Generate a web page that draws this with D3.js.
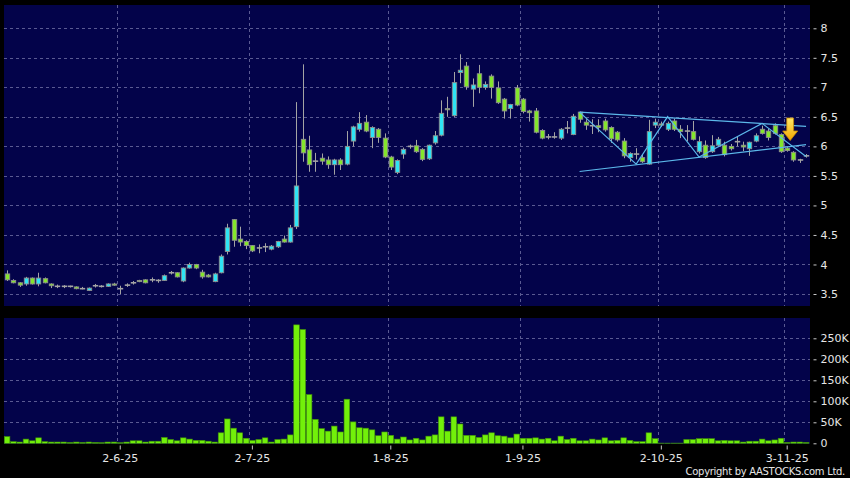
<!DOCTYPE html>
<html>
<head>
<meta charset="utf-8">
<script src="https://cdn.jsdelivr.net/npm/d3@7"></script>
<style>
  body { margin: 0; background: #000; }
  svg { display: block; }
</style>
</head>
<body>
<div id="wrapper"></div>
<script>
/* global d3 */

// trading days shown on the chart
const dates = [
  "2025-05-07","2025-05-08","2025-05-09","2025-05-12","2025-05-13","2025-05-14","2025-05-15","2025-05-16",
  "2025-05-19","2025-05-20","2025-05-21","2025-05-22","2025-05-23","2025-05-26","2025-05-27","2025-05-28",
  "2025-05-29","2025-05-30",
  "2025-06-02","2025-06-03","2025-06-04","2025-06-05","2025-06-06","2025-06-09","2025-06-10","2025-06-11",
  "2025-06-12","2025-06-13","2025-06-16","2025-06-17","2025-06-18","2025-06-19","2025-06-20","2025-06-23",
  "2025-06-24","2025-06-25","2025-06-26","2025-06-27","2025-06-30",
  "2025-07-02","2025-07-03","2025-07-04","2025-07-07","2025-07-08","2025-07-09","2025-07-10","2025-07-11",
  "2025-07-14","2025-07-15","2025-07-16","2025-07-17","2025-07-18","2025-07-21","2025-07-22","2025-07-23",
  "2025-07-24","2025-07-25","2025-07-28","2025-07-29","2025-07-30","2025-07-31",
  "2025-08-01","2025-08-04","2025-08-05","2025-08-06","2025-08-07","2025-08-08","2025-08-11","2025-08-12",
  "2025-08-13","2025-08-14","2025-08-15","2025-08-18","2025-08-19","2025-08-20","2025-08-21","2025-08-22",
  "2025-08-25","2025-08-26","2025-08-27","2025-08-28","2025-08-29",
  "2025-09-01","2025-09-02","2025-09-03","2025-09-04","2025-09-05","2025-09-08","2025-09-09","2025-09-10",
  "2025-09-11","2025-09-12","2025-09-15","2025-09-16","2025-09-17","2025-09-18","2025-09-19","2025-09-22",
  "2025-09-23","2025-09-24","2025-09-25","2025-09-26","2025-09-29","2025-09-30",
  "2025-10-02","2025-10-03","2025-10-06","2025-10-08","2025-10-09","2025-10-10","2025-10-13","2025-10-14",
  "2025-10-15","2025-10-16","2025-10-17","2025-10-20","2025-10-21","2025-10-22","2025-10-23","2025-10-24",
  "2025-10-27","2025-10-28","2025-10-30","2025-10-31",
  "2025-11-03","2025-11-04","2025-11-05","2025-11-06"
];

const opens = [
  3.84,3.73,3.69,3.67,3.77,3.67,3.76,3.67,3.63,3.63,3.63,3.62,3.59,3.56,3.64,3.63,3.63,3.67,
  3.59,3.65,3.69,3.73,3.74,3.74,3.73,3.73,3.86,3.86,3.72,3.94,4.00,3.87,3.82,3.71,3.86,4.22,4.76,4.43,4.39,
  4.32,4.28,4.30,4.26,4.30,4.43,4.38,4.64,6.12,5.94,5.75,5.80,5.77,5.69,5.77,5.70,6.09,6.29,6.41,6.15,6.29,6.14,
  5.82,5.56,5.87,6.00,6.01,5.95,5.79,6.06,6.19,6.64,6.52,7.25,7.36,6.97,7.23,7.00,7.19,6.99,6.80,6.64,6.99,
  6.80,6.60,6.60,6.27,6.16,6.16,6.14,6.31,6.20,6.58,6.41,6.35,6.35,6.43,6.32,6.24,6.09,5.81,5.87,5.81,5.70,6.36,
  6.38,6.29,6.43,6.29,6.26,6.25,5.91,6.02,5.91,6.02,6.02,6.00,6.08,6.02,5.96,6.09,6.29,6.26,6.35,6.20,
  5.97,5.90,5.77,5.84
];
const highs = [
  3.90,3.75,3.70,3.79,3.78,3.86,3.78,3.68,3.66,3.65,3.64,3.63,3.62,3.61,3.67,3.65,3.68,3.69,
  3.64,3.68,3.72,3.74,3.75,3.78,3.75,3.83,3.89,3.87,3.95,4.03,4.01,3.91,3.84,3.86,4.17,4.69,4.77,4.64,4.41,
  4.33,4.34,4.36,4.33,4.40,4.49,4.67,6.75,7.39,6.18,5.89,5.88,5.83,5.79,5.80,6.26,6.35,6.58,6.53,6.34,6.31,6.22,
  5.84,5.78,5.98,6.03,6.11,5.97,6.03,6.26,6.78,6.84,7.26,7.56,7.43,7.15,7.38,7.10,7.22,7.10,6.82,6.72,7.04,
  6.82,6.62,6.65,6.29,6.21,6.24,6.31,6.43,6.55,6.59,6.46,6.46,6.46,6.47,6.34,6.26,6.14,5.90,5.97,5.86,6.45,6.47,
  6.42,6.42,6.47,6.36,6.36,6.43,6.17,6.10,6.19,6.16,6.08,6.04,6.17,6.08,6.08,6.22,6.35,6.30,6.39,6.22,
  6.00,5.92,5.79,5.87
];
const lows = [
  3.72,3.68,3.62,3.64,3.66,3.63,3.68,3.60,3.60,3.60,3.61,3.58,3.58,3.55,3.61,3.61,3.62,3.64,
  3.50,3.62,3.66,3.70,3.68,3.70,3.69,3.72,3.83,3.78,3.70,3.93,3.92,3.76,3.78,3.70,3.85,4.17,4.30,4.31,4.26,
  4.21,4.19,4.21,4.24,4.28,4.37,4.37,4.60,5.74,5.57,5.57,5.69,5.62,5.52,5.60,5.68,6.00,6.25,6.24,5.97,6.06,5.80,
  5.60,5.53,5.79,5.96,5.89,5.75,5.77,6.03,6.17,6.50,6.50,7.07,6.96,6.67,6.90,6.96,6.81,6.72,6.47,6.47,6.68,
  6.56,6.42,6.22,6.12,6.12,6.13,6.11,6.22,6.19,6.40,6.28,6.21,6.24,6.25,6.06,6.08,5.80,5.74,5.78,5.72,5.69,6.31,
  6.33,6.26,6.26,6.14,6.09,6.10,5.88,5.79,5.89,6.00,5.83,5.93,6.00,5.92,5.84,6.07,6.20,6.10,6.20,5.89,
  5.91,5.74,5.72,5.81
];
const closes = [
  3.74,3.69,3.65,3.77,3.67,3.77,3.69,3.64,3.63,3.63,3.63,3.59,3.59,3.60,3.64,3.63,3.67,3.65,
  3.59,3.65,3.69,3.72,3.69,3.74,3.73,3.81,3.86,3.79,3.94,4.00,3.94,3.79,3.79,3.84,4.14,4.62,4.41,4.38,4.32,
  4.23,4.28,4.30,4.31,4.39,4.38,4.62,5.33,5.89,5.69,5.75,5.75,5.69,5.77,5.69,6.00,6.33,6.39,6.26,6.32,6.15,5.82,
  5.65,5.76,5.95,6.00,5.91,5.78,6.02,6.18,6.56,6.63,7.08,7.29,7.01,7.04,7.00,7.05,7.00,6.74,6.60,6.71,6.70,
  6.59,6.57,6.24,6.14,6.16,6.16,6.29,6.31,6.51,6.46,6.36,6.35,6.32,6.28,6.13,6.11,5.84,5.88,5.87,5.74,6.25,6.41,
  6.37,6.39,6.29,6.25,6.26,6.12,6.08,5.81,6.01,6.12,5.86,5.96,6.08,5.99,6.07,6.18,6.22,6.15,6.22,5.91,
  5.93,5.77,5.77,5.84
];
// volume, thousands of shares
const volumes = [
  16,4,3,10,6,13,4,3,3,3,2,3,2,3,2,1.5,3,3,
  1.5,3,6,6,3,5,5,14,9,6,13,10,7,7,5,3,25,58,36,25,12,
  7,9,13,3,9,10,20,282,271,116,57,35,29,41,27,105,51,37,36,32,18,27,
  19,10,15,8,12,8,17,20,63,29,63,46,19,19,14,20,25,18,17,13,22,
  12,12,13,10,12,6,17,9,12,6,6,10,8,13,6,7,13,7,4,4,25,11,
  0.5,0.5,0.5,0.5,9,9,11,11,11,6,7,6,6,3,5,5,10,6,8,12,
  2,3,3,2
];

const priceTicks = [3.5, 4, 4.5, 5, 5.5, 6, 6.5, 7, 7.5, 8];
const volumeTicks = [0, 50, 100, 150, 200, 250];
const monthTicks = ["2025-06-02", "2025-07-02", "2025-08-01", "2025-09-01", "2025-10-02", "2025-11-03"];

// hand-drawn lines on the chart: [date, price]
const channelUpper = [["2025-09-12", 6.58], ["2025-11-06", 6.34]];
const channelLower = [["2025-09-12", 5.575], ["2025-11-06", 6.03]];
const zigzag = [
  ["2025-09-12", 6.58], ["2025-09-25", 5.70], ["2025-10-03", 6.505],
  ["2025-10-13", 5.82], ["2025-10-27", 6.39], ["2025-11-06", 5.83]
];
const arrowMark = { date: "2025-11-03", price: 6.10 };

const drawChart = () => {
  const dataset = dates.map((d, i) => ({
    date: d,
    open: opens[i],
    high: highs[i],
    low: lows[i],
    close: closes[i],
    volume: volumes[i],
  }));

  const dimensions = {
    width: 850,
    height: 478,
    left: 4,
    right: 810,
    priceTop: 5,
    priceBottom: 306,
    volumeTop: 318,
    volumeBottom: 444,
  };

  const gridColor = "#5a5a92";
  const textColor = "#e6e6e6";
  const font = "'DejaVu Sans', Verdana, sans-serif";

  const wrapper = d3
    .select("#wrapper")
    .append("svg")
    .attr("width", dimensions.width)
    .attr("height", dimensions.height)
    .style("background", "#000");

  const xScale = d3
    .scaleBand()
    .domain(dates)
    .range([3.85, 809.2])
    .padding(0);
  const xCenter = (d) => xScale(d) + xScale.bandwidth() / 2;

  const yPrice = d3.scaleLinear().domain([3.5, 8]).range([294, 28.3]);
  const yVolume = d3.scaleLinear().domain([0, 250]).range([443.3, 338.3]);

  // panels
  wrapper
    .append("rect")
    .attr("x", dimensions.left)
    .attr("y", dimensions.priceTop)
    .attr("width", dimensions.right - dimensions.left)
    .attr("height", dimensions.priceBottom - dimensions.priceTop)
    .attr("fill", "#03034a");
  wrapper
    .append("rect")
    .attr("x", dimensions.left)
    .attr("y", dimensions.volumeTop)
    .attr("width", dimensions.right - dimensions.left)
    .attr("height", dimensions.volumeBottom - dimensions.volumeTop)
    .attr("fill", "#03034a");

  // grid
  const grid = wrapper
    .append("g")
    .attr("stroke", gridColor)
    .attr("stroke-width", 1)
    .attr("stroke-dasharray", "3,3");

  grid
    .selectAll(".pgrid")
    .data(priceTicks)
    .join("line")
    .attr("x1", dimensions.left)
    .attr("x2", dimensions.right)
    .attr("y1", (d) => Math.round(yPrice(d)) + 0.5)
    .attr("y2", (d) => Math.round(yPrice(d)) + 0.5);

  grid
    .selectAll(".vgrid")
    .data(volumeTicks.filter((d) => d > 0))
    .join("line")
    .attr("x1", dimensions.left)
    .attr("x2", dimensions.right)
    .attr("y1", (d) => Math.round(yVolume(d)) + 0.5)
    .attr("y2", (d) => Math.round(yVolume(d)) + 0.5);

  monthTicks.forEach((d) => {
    const x = Math.round(xScale(d)) + 0.5;
    grid.append("line").attr("x1", x).attr("x2", x)
      .attr("y1", dimensions.priceTop).attr("y2", dimensions.priceBottom);
    grid.append("line").attr("x1", x).attr("x2", x)
      .attr("y1", dimensions.volumeTop).attr("y2", dimensions.volumeBottom);
  });

  // candles
  const candles = wrapper.append("g");
  const upColor = "#2fe4f4";
  const downColor = "#84e62c";

  candles
    .selectAll(".wick")
    .data(dataset)
    .join("line")
    .attr("x1", (d) => Math.round(xCenter(d.date)) + 0.5)
    .attr("x2", (d) => Math.round(xCenter(d.date)) + 0.5)
    .attr("y1", (d) => yPrice(d.high))
    .attr("y2", (d) => yPrice(d.low))
    .attr("stroke", "#a4a4a4")
    .attr("stroke-width", 1);

  candles
    .selectAll(".body")
    .data(dataset.filter((d) => d.open !== d.close))
    .join("rect")
    .attr("x", (d) => Math.round(xCenter(d.date)) - 1.7)
    .attr("width", 4.4)
    .attr("y", (d) => yPrice(Math.max(d.open, d.close)))
    .attr("height", (d) => Math.max(1.2, Math.abs(yPrice(d.open) - yPrice(d.close))))
    .attr("fill", (d) => (d.close > d.open ? upColor : downColor))
    .attr("stroke", "#8e8e8e")
    .attr("stroke-width", 0.9);

  candles
    .selectAll(".doji")
    .data(dataset.filter((d) => d.open === d.close))
    .join("line")
    .attr("x1", (d) => Math.round(xCenter(d.date)) - 2.2)
    .attr("x2", (d) => Math.round(xCenter(d.date)) + 3.2)
    .attr("y1", (d) => yPrice(d.close))
    .attr("y2", (d) => yPrice(d.close))
    .attr("stroke", "#a4a4a4")
    .attr("stroke-width", 1.6);

  // volume bars
  wrapper
    .append("g")
    .selectAll("rect")
    .data(dataset)
    .join("rect")
    .attr("x", (d) => xCenter(d.date) - 2.7)
    .attr("width", 5.6)
    .attr("y", (d) => yVolume(d.volume))
    .attr("height", (d) => yVolume(0) - yVolume(d.volume))
    .attr("fill", "#72f00a")
    .attr("stroke", "#3f8f08")
    .attr("stroke-width", 0.6);

  // drawn lines
  const lineGenerator = d3
    .line()
    .x((d) => xCenter(d[0]))
    .y((d) => yPrice(d[1]));

  const drawings = wrapper
    .append("g")
    .attr("fill", "none")
    .attr("stroke", "#5cb8ea")
    .attr("stroke-width", 1.2);
  [channelUpper, channelLower, zigzag].forEach((pts) => {
    drawings.append("path").attr("d", lineGenerator(pts));
  });

  // arrow marker
  const defs = wrapper.append("defs");
  const grad = defs
    .append("linearGradient")
    .attr("id", "arrowGrad")
    .attr("x1", 0).attr("y1", 0).attr("x2", 0).attr("y2", 1);
  grad.append("stop").attr("offset", "0%").attr("stop-color", "#ffe866");
  grad.append("stop").attr("offset", "100%").attr("stop-color", "#f2a600");

  const ax = xCenter(arrowMark.date) + 3;
  const ay = yPrice(arrowMark.price);
  wrapper
    .append("path")
    .attr(
      "d",
      `M${ax - 3.4},${ay - 22.5} L${ax + 3.4},${ay - 22.5} L${ax + 3.4},${ay - 9.5}` +
        ` L${ax + 7.5},${ay - 9.5} L${ax},${ay} L${ax - 7.5},${ay - 9.5} L${ax - 3.4},${ay - 9.5} Z`
    )
    .attr("fill", "url(#arrowGrad)")
    .attr("stroke", "#c98a00")
    .attr("stroke-width", 0.8);

  // axes
  const priceAxis = d3
    .axisRight(yPrice)
    .tickValues(priceTicks)
    .tickSize(3)
    .tickPadding(4)
    .tickFormat((d) => d3.format("~g")(d));

  const priceAxisGroup = wrapper
    .append("g")
    .attr("transform", "translate(813.5,0)")
    .call(priceAxis);

  const volumeAxis = d3
    .axisRight(yVolume)
    .tickValues(volumeTicks)
    .tickSize(3)
    .tickPadding(4)
    .tickFormat((d) => (d === 0 ? "0" : d + "K"));

  const volumeAxisGroup = wrapper
    .append("g")
    .attr("transform", "translate(813.5,0)")
    .call(volumeAxis);

  const xAxis = d3
    .axisBottom(xScale)
    .tickValues(monthTicks)
    .tickSize(4)
    .tickPadding(5)
    .tickFormat((d) => d3.timeFormat("%-d-%-m-%y")(d3.timeParse("%Y-%m-%d")(d)));

  const xAxisGroup = wrapper
    .append("g")
    .attr("transform", `translate(0,${dimensions.volumeBottom + 1.5})`)
    .call(xAxis);

  [priceAxisGroup, volumeAxisGroup, xAxisGroup].forEach((g) => {
    g.select(".domain").remove();
    g.selectAll(".tick line").attr("stroke", "#c8c8c8");
    g.selectAll("text")
      .attr("fill", textColor)
      .style("font-size", "11px")
      .style("font-family", font);
  });

  wrapper
    .append("text")
    .attr("x", 845)
    .attr("y", 475)
    .attr("fill", textColor)
    .style("font-size", "10px")
    .style("letter-spacing", "-0.3px")
    .style("font-family", font)
    .style("text-anchor", "end")
    .text("Copyright by AASTOCKS.com Ltd.");
};

drawChart();
</script>
</body>
</html>
